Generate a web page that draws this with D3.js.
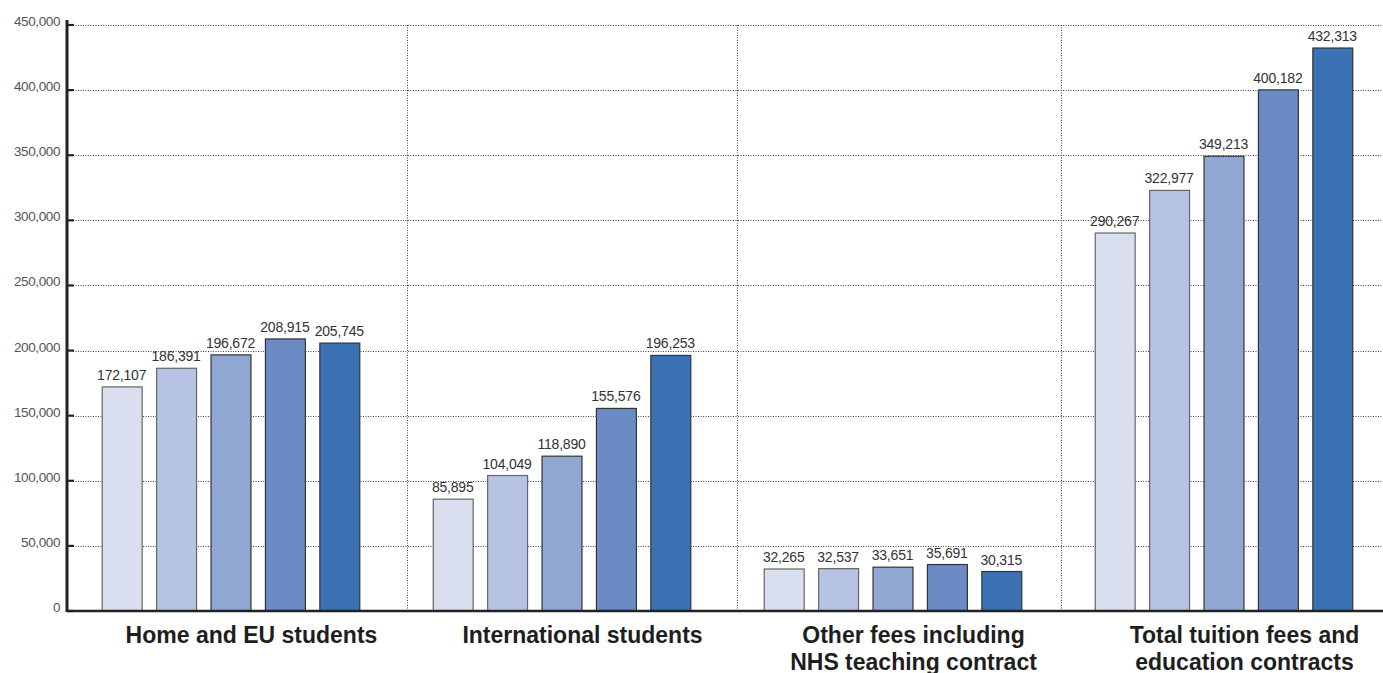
<!DOCTYPE html>
<html>
<head>
<meta charset="utf-8">
<script src="https://cdnjs.cloudflare.com/ajax/libs/d3/7.8.5/d3.min.js"></script>
<style>
  body { margin:0; background:#fff; }
  svg { display:block; }
</style>
</head>
<body>
<svg id="chart" width="1383" height="673"></svg>
<script>
// data
var categories = [
  ["Home and EU students"],
  ["International students"],
  ["Other fees including", "NHS teaching contract"],
  ["Total tuition fees and", "education contracts"]
];
var years = ["y1", "y2", "y3", "y4", "y5"];
var values = [
  [172107, 186391, 196672, 208915, 205745],
  [85895, 104049, 118890, 155576, 196253],
  [32265, 32537, 33651, 35691, 30315],
  [290267, 322977, 349213, 400182, 432313]
];
var yTicks = [0, 50000, 100000, 150000, 200000, 250000, 300000, 350000, 400000, 450000];
var colors = ["#d9dfef", "#b6c3e3", "#90a7d3", "#6a8bc3", "#3a72b3"];

var svg = d3.select("#chart");
var W = 1383, H = 673;
var mLeft = 67, mBottom = 611, mTop = 25;

var y = d3.scaleLinear().domain([0, 450000]).range([mBottom, mTop]);
var x = d3.scaleBand().domain(d3.range(categories.length)).range([65, 1389]);
var fmt = d3.format(",");

// gridlines
svg.append("g").selectAll("line")
  .data(yTicks.slice(1))
  .enter().append("line")
  .attr("x1", mLeft + 6).attr("x2", W)
  .attr("y1", function(d){ return Math.round(y(d)) + 0.5; })
  .attr("y2", function(d){ return Math.round(y(d)) + 0.5; })
  .attr("stroke", "#444").attr("stroke-width", 1)
  .attr("stroke-dasharray", "1,1.5");

// vertical separators
svg.append("g").selectAll("line")
  .data(d3.range(categories.length - 1))
  .enter().append("line")
  .attr("x1", function(i){ return Math.round(x(i) + x.bandwidth() + [11, 10, 3][i]) + 0.5; })
  .attr("x2", function(i){ return Math.round(x(i) + x.bandwidth() + [11, 10, 3][i]) + 0.5; })
  .attr("y1", mTop).attr("y2", mBottom)
  .attr("stroke", "#444").attr("stroke-width", 1)
  .attr("stroke-dasharray", "1,1.5");

// bars
var groups = svg.append("g").selectAll("g")
  .data(values)
  .enter().append("g");

groups.each(function(vals, gi){
  var c = x(gi) + x.bandwidth() / 2;
  var xi = d3.scaleBand().domain(years)
    .range([c - 136, c + 136])
    .paddingInner(0.266).paddingOuter(0.133);
  var g = d3.select(this);
  g.selectAll("rect")
    .data(vals)
    .enter().append("rect")
    .attr("x", function(d, i){ return xi(years[i]) + 0.5; })
    .attr("width", xi.bandwidth())
    .attr("y", function(d){ return y(d); })
    .attr("height", function(d){ return mBottom - y(d); })
    .attr("fill", function(d, i){ return colors[i]; })
    .attr("stroke", function(d, i){ return i < 2 ? "#666" : "#333"; })
    .attr("stroke-width", 1.2);
  g.selectAll("text")
    .data(vals)
    .enter().append("text")
    .attr("x", function(d, i){ return xi(years[i]) + xi.bandwidth() / 2; })
    .attr("y", function(d){ return y(d) - 7; })
    .attr("text-anchor", "middle")
    .attr("font-family", "Liberation Sans, Arial, sans-serif")
    .attr("font-size", 14)
    .attr("letter-spacing", "-0.2")
    .attr("fill", "#333")
    .text(function(d){ return fmt(d); });
});

// baseline axis
svg.append("line")
  .attr("x1", mLeft).attr("x2", W)
  .attr("y1", mBottom).attr("y2", mBottom)
  .attr("stroke", "#222").attr("stroke-width", 2.5);

// y axis
svg.append("line")
  .attr("x1", mLeft).attr("x2", mLeft)
  .attr("y1", mTop - 5).attr("y2", mBottom + 1)
  .attr("stroke", "#222").attr("stroke-width", 3);

var ty = svg.append("g");
ty.selectAll("line")
  .data(yTicks)
  .enter().append("line")
  .attr("x1", mLeft).attr("x2", mLeft + 7)
  .attr("y1", function(d){ return y(d); })
  .attr("y2", function(d){ return y(d); })
  .attr("stroke", "#222").attr("stroke-width", 2.2);
ty.selectAll("text")
  .data(yTicks)
  .enter().append("text")
  .attr("x", mLeft - 7)
  .attr("y", function(d){ return y(d) + 1; })
  .attr("text-anchor", "end")
  .attr("font-family", "Liberation Sans, Arial, sans-serif")
  .attr("font-size", 13.5)
  .attr("letter-spacing", "-0.4")
  .attr("fill", "#555")
  .text(function(d){ return fmt(d); });

// category labels
var cl = svg.append("g").selectAll("text")
  .data(categories)
  .enter().append("text")
  .attr("x", function(d, i){ return x(i) + x.bandwidth() / 2 + 21; })
  .attr("y", 643)
  .attr("text-anchor", "middle")
  .attr("font-family", "Liberation Sans, Arial, sans-serif")
  .attr("font-weight", "bold")
  .attr("font-size", 23)
  .attr("fill", "#1e1e1e");
cl.selectAll("tspan")
  .data(function(d){ return d; })
  .enter().append("tspan")
  .attr("x", function(){ return d3.select(this.parentNode).attr("x"); })
  .attr("dy", function(d, i){ return i === 0 ? 0 : 27; })
  .text(function(d){ return d; });
</script>
</body>
</html>
